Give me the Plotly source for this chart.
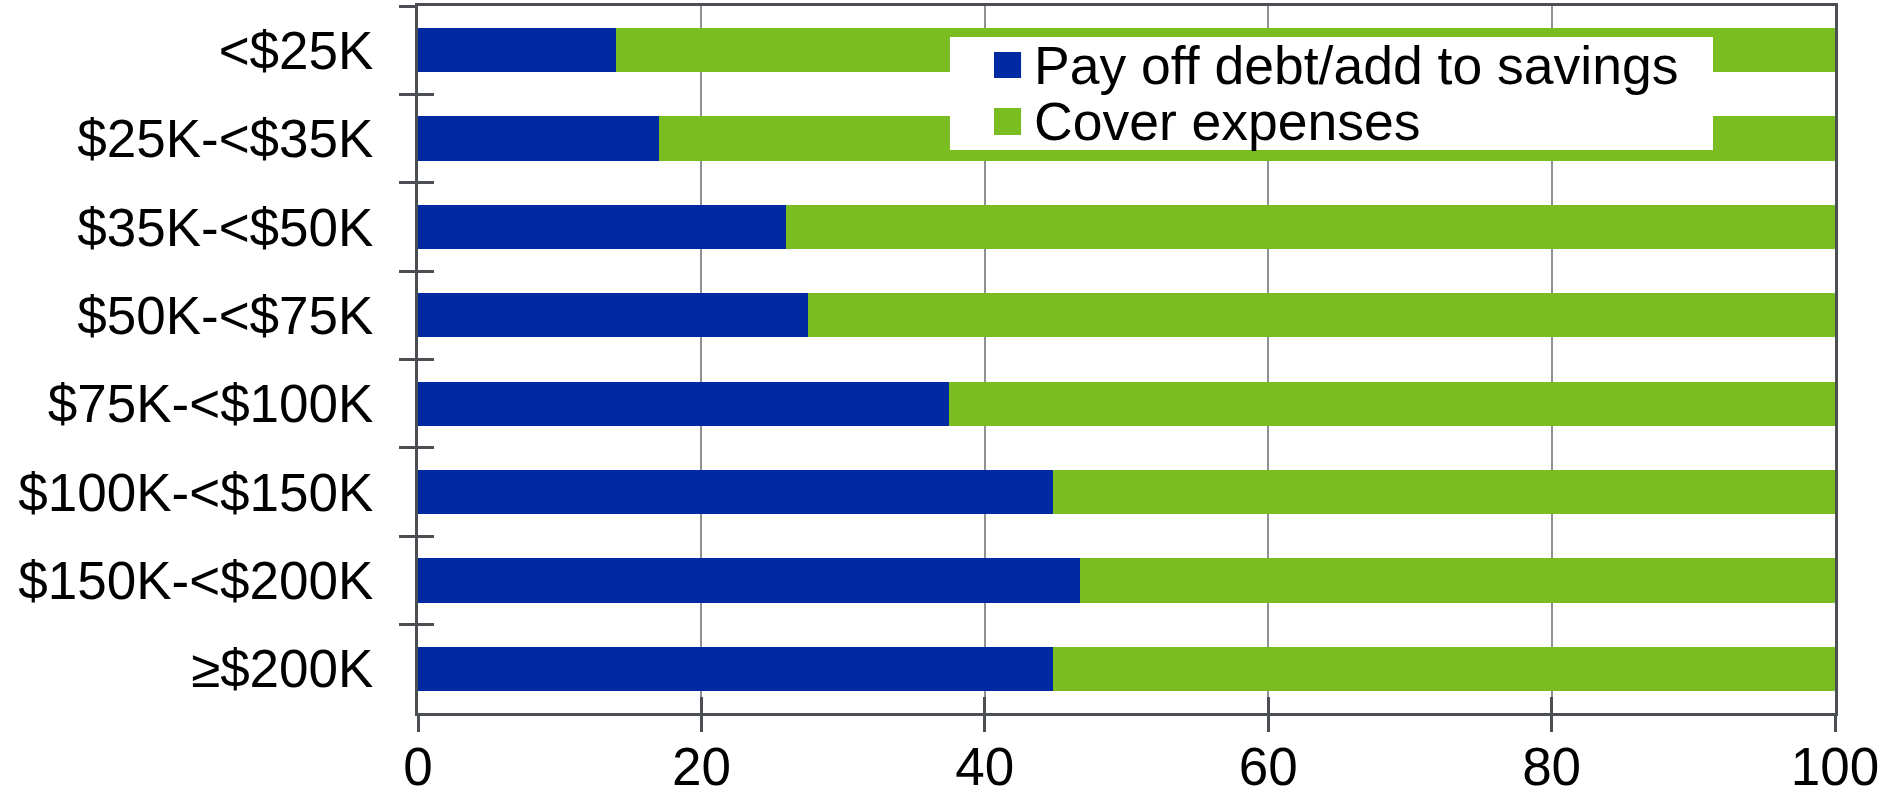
import plotly.graph_objects as go

# Household income groups (top to bottom)
income_groups = ["<$25K", "$25K-<$35K", "$35K-<$50K", "$50K-<$75K",
                 "$75K-<$100K", "$100K-<$150K", "$150K-<$200K", "≥$200K"]

# Share (%) of respondents by intended use
series_names = ["Pay off debt/add to savings", "Cover expenses"]
pay_off_debt = [14, 17, 26, 27.5, 37.5, 44.8, 46.7, 44.8]
cover_expenses = [86, 83, 74, 72.5, 62.5, 55.2, 53.3, 55.2]

x_ticks = [0, 20, 40, 60, 80, 100]

BLUE = "#0029A2"
GREEN = "#79BD21"
AXIS = "#4B4F54"
GRID = "#8E9194"
FONT = "Liberation Sans, Arial, sans-serif"

fig = go.Figure()
for name, vals, col in [(series_names[0], pay_off_debt, BLUE),
                        (series_names[1], cover_expenses, GREEN)]:
    fig.add_trace(go.Bar(
        y=income_groups, x=vals, name=name, orientation="h",
        marker=dict(color=col, line=dict(width=0)),
        showlegend=False,
    ))

# Empty helper trace so the overlay axes (inner tick marks) get drawn
fig.add_trace(go.Scatter(x=[None], y=[None], xaxis="x2", yaxis="y2",
                         mode="markers", showlegend=False, hoverinfo="skip"))

y_range = [len(income_groups) - 0.5, -0.5]

fig.update_layout(
    barmode="stack",
    bargap=0.5,
    width=1891, height=798,
    margin=dict(l=418, r=56, t=6, b=85),
    paper_bgcolor="white", plot_bgcolor="white",
    font=dict(family=FONT, size=53, color="black"),
    xaxis=dict(
        range=[0, 100], tickvals=x_ticks, ticks="outside", ticklen=16,
        tickwidth=3, tickcolor=AXIS, showline=True, linecolor=AXIS,
        linewidth=3, mirror=True, showgrid=True, gridcolor=GRID,
        gridwidth=2, zeroline=False, ticklabelstandoff=-11,
        tickfont=dict(size=53), automargin=False,
    ),
    xaxis2=dict(
        overlaying="x", anchor="y", side="bottom", range=[0, 100],
        tickvals=x_ticks, ticks="inside", ticklen=16, tickwidth=3,
        tickcolor=AXIS, showticklabels=False, showgrid=False,
        zeroline=False, showline=False, automargin=False,
    ),
    yaxis=dict(
        type="category", categoryarray=income_groups, range=y_range,
        tickson="boundaries", ticks="outside", ticklen=16, tickwidth=3,
        tickcolor=AXIS, showline=True, linecolor=AXIS, linewidth=3,
        mirror=True, showgrid=False, zeroline=False,
        ticklabelstandoff=31, tickfont=dict(size=53), automargin=False,
    ),
    yaxis2=dict(
        type="category", categoryarray=income_groups, range=y_range,
        overlaying="y", anchor="x", side="left",
        tickson="boundaries", ticks="inside", ticklen=16, tickwidth=3,
        tickcolor=AXIS, showticklabels=False, showgrid=False,
        zeroline=False, showline=False, automargin=False,
    ),
)

# Legend box with large colour keys
fig.add_shape(type="rect", xref="paper", yref="paper",
              x0=0.3754, x1=0.9139, y0=0.7963, y1=0.9562,
              fillcolor="white", line=dict(width=0), layer="above")
key_rows = [(0.9349, 0.8982, 0.9165), (0.8557, 0.8175, 0.8366)]
for name, col, (ky1, ky0, ty) in zip(series_names, [BLUE, GREEN], key_rows):
    fig.add_shape(type="rect", xref="paper", yref="paper",
                  x0=0.4065, x1=0.4256, y0=ky0, y1=ky1,
                  fillcolor=col, line=dict(width=0), layer="above")
    fig.add_annotation(xref="paper", yref="paper", x=0.4333, y=ty,
                       text=name, showarrow=False, xanchor="left",
                       yanchor="middle", font=dict(size=53.5, color="black"))

fig.write_html("out.html")
